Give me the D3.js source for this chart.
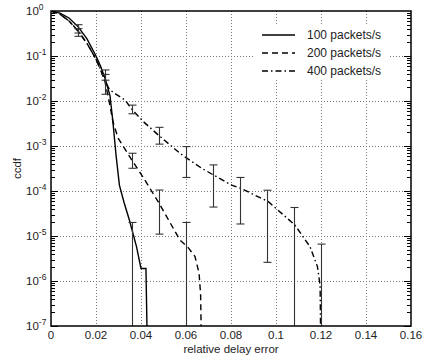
<!DOCTYPE html>
<html><head><meta charset="utf-8">
<script src="https://cdn.jsdelivr.net/npm/d3@7"></script>
<style>body{margin:0;background:#fff}svg{display:block;font-family:"Liberation Sans",Arial,sans-serif}</style>
</head><body><svg id="c" width="422" height="360"></svg>
<script>
const xTicks = [0, 0.02, 0.04, 0.06, 0.08, 0.1, 0.12, 0.14, 0.16];
const xTickLabels = ["0", "0.02", "0.04", "0.06", "0.08", "0.1", "0.12", "0.14", "0.16"];
const yExponents = [0, -1, -2, -3, -4, -5, -6, -7];
const seriesNames = ["100 packets/s", "200 packets/s", "400 packets/s"];

const x100 = [0, 0.004, 0.008, 0.012, 0.016, 0.02, 0.022, 0.024, 0.0262, 0.0275, 0.0289, 0.0304, 0.0325, 0.0348, 0.038, 0.040, 0.0422, 0.043];
const p100 = [1, 0.9, 0.7, 0.45, 0.24, 0.1, 0.06, 0.032, 0.0134, 3.5e-3, 6.3e-4, 1.35e-4, 5.5e-5, 2.3e-5, 5.8e-6, 1.9e-6, 1.9e-6, 1e-8];

const x200 = [0, 0.004, 0.008, 0.012, 0.016, 0.02, 0.022, 0.024, 0.026, 0.0275, 0.0298, 0.0336, 0.036, 0.041, 0.048, 0.0573, 0.061, 0.064, 0.0658, 0.0665, 0.067];
const p200 = [1, 0.85, 0.6, 0.36, 0.19, 0.085, 0.05, 0.027, 0.009, 3.5e-3, 1.5e-3, 7.5e-4, 4.8e-4, 2e-4, 5.4e-5, 8.1e-6, 5.5e-6, 3.5e-6, 1.5e-6, 5e-7, 1e-8];

const x400 = [0, 0.004, 0.008, 0.012, 0.016, 0.02, 0.022, 0.024, 0.026, 0.029, 0.0329, 0.036, 0.041, 0.048, 0.0573, 0.06, 0.067, 0.072, 0.0803, 0.0843, 0.0966, 0.1084, 0.1151, 0.1184, 0.1196, 0.12];
const p400 = [1, 0.85, 0.6, 0.36, 0.19, 0.085, 0.05, 0.028, 0.018, 0.014, 0.0105, 6.5e-3, 3.5e-3, 1.7e-3, 6.9e-4, 5.5e-4, 3.2e-4, 2.3e-4, 1.35e-4, 1.15e-4, 5.8e-5, 1.75e-5, 5.8e-6, 2.1e-6, 8e-7, 1e-8];

// error bars: x, low, high (low 0 => extends below axis)
const ebX100 = [0.012, 0.024, 0.036];
const ebLo100 = [0.324, 0.029, 0];
const ebHi100 = [0.496, 0.049, 2e-5];

const ebX200 = [0.012, 0.024, 0.036, 0.048, 0.06];
const ebLo200 = [0.274, 0.0141, 3.2e-4, 1.1e-5, 0];
const ebHi200 = [0.405, 0.039, 6.9e-4, 1.05e-4, 2e-5];

const ebX400 = [0.036, 0.048, 0.06, 0.072, 0.084, 0.096, 0.108, 0.12];
const ebLo400 = [5.2e-3, 1.1e-3, 2.0e-4, 4.4e-5, 1.85e-5, 2.6e-6, 0, 0];
const ebHi400 = [8.1e-3, 2.6e-3, 9.7e-4, 3.8e-4, 2.0e-4, 1.04e-4, 4.3e-5, 6.6e-6];

const svg = d3.select("#c");
const L = 51, R = 411, T = 11, B = 326;
const x = d3.scaleLinear().domain([0, 0.16]).range([L, R]);
const y = d3.scaleLog().domain([1e-7, 1]).range([B, T]).clamp(false);

const defs = svg.append("defs");
defs.append("clipPath").attr("id", "clip").append("rect").attr("x", L).attr("y", T).attr("width", R - L).attr("height", B - T);

// grid
const grid = svg.append("g").attr("stroke", "#777").attr("stroke-width", 1).attr("stroke-dasharray", "1,2");
xTicks.slice(1, -1).forEach(v => grid.append("line").attr("x1", Math.round(x(v)) + 0.5).attr("x2", Math.round(x(v)) + 0.5).attr("y1", T).attr("y2", B));
yExponents.slice(1, -1).forEach(e => grid.append("line").attr("y1", Math.round(y(Math.pow(10, e))) + 0.5).attr("y2", Math.round(y(Math.pow(10, e))) + 0.5).attr("x1", L).attr("x2", R));

// minor/major ticks left and right
const tk = svg.append("g").attr("stroke", "#000").attr("stroke-width", 1);
for (let e = -7; e < 0; e++) {
  for (let m = 1; m < 10; m++) {
    const v = m * Math.pow(10, e);
    const yy = Math.round(y(v)) + 0.5;
    const len = m === 1 ? 7 : 4;
    tk.append("line").attr("x1", L).attr("x2", L + len).attr("y1", yy).attr("y2", yy);
    tk.append("line").attr("x1", R).attr("x2", R - len).attr("y1", yy).attr("y2", yy);
  }
}

// legend background
const lg = svg.append("g");
lg.append("rect").attr("x", 255).attr("y", 25).attr("width", 134).attr("height", 55).attr("fill", "#fff");

// curves
const line = d3.line().x(d => x(d[0])).y(d => y(d[1]));
const plot = svg.append("g").attr("clip-path", "url(#clip)");
const series = [
  {xs: x100, ps: p100, dash: null},
  {xs: x200, ps: p200, dash: "6,4"},
  {xs: x400, ps: p400, dash: "6,3,1.5,3"}
];
series.forEach(s => {
  plot.append("path").datum(d3.zip(s.xs, s.ps)).attr("d", line)
    .attr("fill", "none").attr("stroke", "#000").attr("stroke-width", 1.4)
    .attr("stroke-dasharray", s.dash);
});

// error bars
const eb = svg.append("g").attr("stroke", "#333").attr("stroke-width", 1.1).attr("clip-path", "url(#clip)");
[[ebX100, ebLo100, ebHi100], [ebX200, ebLo200, ebHi200], [ebX400, ebLo400, ebHi400]].forEach(([xs, lo, hi]) => {
  xs.forEach((v, i) => {
    const cx = Math.round(x(v)) + 0.5;
    const yHi = y(hi[i]);
    const yLo = lo[i] > 0 ? y(lo[i]) : B + 5;
    eb.append("line").attr("x1", cx).attr("x2", cx).attr("y1", yHi).attr("y2", yLo);
    eb.append("line").attr("x1", cx - 4).attr("x2", cx + 4).attr("y1", yHi).attr("y2", yHi);
    if (lo[i] > 0) eb.append("line").attr("x1", cx - 4).attr("x2", cx + 4).attr("y1", yLo).attr("y2", yLo);
  });
});

// frame
svg.append("rect").attr("x", L).attr("y", T).attr("width", R - L).attr("height", B - T)
  .attr("fill", "none").attr("stroke", "#000").attr("stroke-width", 1.5);

// x tick labels
xTicks.forEach((v, i) => {
  svg.append("text").attr("x", x(v)).attr("y", 339).attr("text-anchor", "middle")
    .attr("font-size", 11.5).attr("fill", "#222").text(xTickLabels[i]);
});
// y tick labels
yExponents.forEach(e => {
  const t = svg.append("text").attr("x", 26).attr("y", y(Math.pow(10, e)) + 4)
    .attr("font-size", 11.5).attr("fill", "#222");
  t.append("tspan").text("10");
  t.append("tspan").attr("dy", -5).attr("font-size", 8.5).text(String(e));
});

svg.append("text").attr("x", (L + R) / 2).attr("y", 353).attr("text-anchor", "middle")
  .attr("font-size", 11.5).attr("fill", "#222").text("relative delay error");
svg.append("text").attr("transform", `translate(21,${(T + B) / 2}) rotate(-90)`).attr("text-anchor", "middle")
  .attr("font-size", 11.5).attr("fill", "#222").text("ccdf");

// legend
const ly = [35, 53, 71];
series.forEach((s, i) => {
  lg.append("line").attr("x1", 262).attr("x2", 295).attr("y1", ly[i]).attr("y2", ly[i])
    .attr("stroke", "#000").attr("stroke-width", 1.4).attr("stroke-dasharray", s.dash);
  lg.append("text").attr("x", 307).attr("y", ly[i] + 4).attr("font-size", 12).attr("fill", "#222").text(seriesNames[i]);
});
</script></body></html>
